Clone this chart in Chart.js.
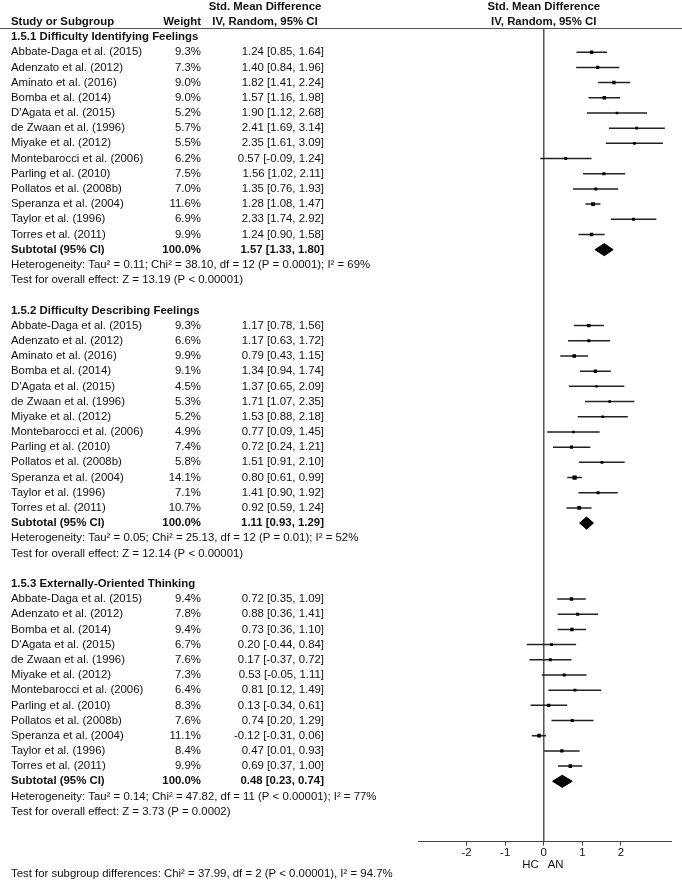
<!DOCTYPE html>
<html>
<head>
<meta charset="utf-8">
<script src="https://cdn.jsdelivr.net/npm/chart.js@4.4.1/dist/chart.umd.min.js"></script>
<style>
  body { margin: 0; background: #fff; }
  canvas { display: block; }
</style>
</head>
<body>
<canvas id="forestPlot" width="682" height="881"></canvas>
<script>
const groupTitles = ['1.5.1 Difficulty Identifying Feelings', '1.5.2 Difficulty Describing Feelings', '1.5.3 Externally-Oriented Thinking'];

const studies1 = ['Abbate-Daga et al. (2015)', 'Adenzato et al. (2012)', 'Aminato et al. (2016)', 'Bomba et al. (2014)', "D'Agata et al. (2015)", 'de Zwaan et al. (1996)', 'Miyake et al. (2012)', 'Montebarocci et al. (2006)', 'Parling et al. (2010)', 'Pollatos et al. (2008b)', 'Speranza et al. (2004)', 'Taylor et al. (1996)', 'Torres et al. (2011)'];
const weights1 = [9.3, 7.3, 9.0, 9.0, 5.2, 5.7, 5.5, 6.2, 7.5, 7.0, 11.6, 6.9, 9.9];
const smd1 = [1.24, 1.40, 1.82, 1.57, 1.90, 2.41, 2.35, 0.57, 1.56, 1.35, 1.28, 2.33, 1.24];
const lower1 = [0.85, 0.84, 1.41, 1.16, 1.12, 1.69, 1.61, -0.09, 1.02, 0.76, 1.08, 1.74, 0.90];
const upper1 = [1.64, 1.96, 2.24, 1.98, 2.68, 3.14, 3.09, 1.24, 2.11, 1.93, 1.47, 2.92, 1.58];

const studies2 = ['Abbate-Daga et al. (2015)', 'Adenzato et al. (2012)', 'Aminato et al. (2016)', 'Bomba et al. (2014)', "D'Agata et al. (2015)", 'de Zwaan et al. (1996)', 'Miyake et al. (2012)', 'Montebarocci et al. (2006)', 'Parling et al. (2010)', 'Pollatos et al. (2008b)', 'Speranza et al. (2004)', 'Taylor et al. (1996)', 'Torres et al. (2011)'];
const weights2 = [9.3, 6.6, 9.9, 9.1, 4.5, 5.3, 5.2, 4.9, 7.4, 5.8, 14.1, 7.1, 10.7];
const smd2 = [1.17, 1.17, 0.79, 1.34, 1.37, 1.71, 1.53, 0.77, 0.72, 1.51, 0.80, 1.41, 0.92];
const lower2 = [0.78, 0.63, 0.43, 0.94, 0.65, 1.07, 0.88, 0.09, 0.24, 0.91, 0.61, 0.90, 0.59];
const upper2 = [1.56, 1.72, 1.15, 1.74, 2.09, 2.35, 2.18, 1.45, 1.21, 2.10, 0.99, 1.92, 1.24];

const studies3 = ['Abbate-Daga et al. (2015)', 'Adenzato et al. (2012)', 'Bomba et al. (2014)', "D'Agata et al. (2015)", 'de Zwaan et al. (1996)', 'Miyake et al. (2012)', 'Montebarocci et al. (2006)', 'Parling et al. (2010)', 'Pollatos et al. (2008b)', 'Speranza et al. (2004)', 'Taylor et al. (1996)', 'Torres et al. (2011)'];
const weights3 = [9.4, 7.8, 9.4, 6.7, 7.6, 7.3, 6.4, 8.3, 7.6, 11.1, 8.4, 9.9];
const smd3 = [0.72, 0.88, 0.73, 0.20, 0.17, 0.53, 0.81, 0.13, 0.74, -0.12, 0.47, 0.69];
const lower3 = [0.35, 0.36, 0.36, -0.44, -0.37, -0.05, 0.12, -0.34, 0.20, -0.31, 0.01, 0.37];
const upper3 = [1.09, 1.41, 1.10, 0.84, 0.72, 1.11, 1.49, 0.61, 1.29, 0.06, 0.93, 1.00];

const subtotalSmd = [1.57, 1.11, 0.48];
const subtotalLower = [1.33, 0.93, 0.23];
const subtotalUpper = [1.80, 1.29, 0.74];

const heterogeneityNotes = [
  'Heterogeneity: Tau\u00b2 = 0.11; Chi\u00b2 = 38.10, df = 12 (P = 0.0001); I\u00b2 = 69%',
  'Heterogeneity: Tau\u00b2 = 0.05; Chi\u00b2 = 25.13, df = 12 (P = 0.01); I\u00b2 = 52%',
  'Heterogeneity: Tau\u00b2 = 0.14; Chi\u00b2 = 47.82, df = 11 (P < 0.00001); I\u00b2 = 77%'
];
const overallNotes = [
  'Test for overall effect: Z = 13.19 (P < 0.00001)',
  'Test for overall effect: Z = 12.14 (P < 0.00001)',
  'Test for overall effect: Z = 3.73 (P = 0.0002)'
];
const subgroupNote = 'Test for subgroup differences: Chi\u00b2 = 37.99, df = 2 (P < 0.00001), I\u00b2 = 94.7%';
const xTicks = [-2, -1, 0, 1, 2];

// layout
const fonte = 'Arial, "Liberation Sans", sans-serif';
const tamFonte = '11.4px ';
const linhaY0 = 37, alturaLinha = 15.19;
const topo = 28.5, eixoY = 841.5;
const yMin = (topo - linhaY0) / alturaLinha;
const yMax = (eixoY - linhaY0) / alturaLinha;
const meiaAltDiamante = 0.4;

const grupos = [
  { studies: studies1, weights: weights1, smd: smd1, lower: lower1, upper: upper1 },
  { studies: studies2, weights: weights2, smd: smd2, lower: lower2, upper: upper2 },
  { studies: studies3, weights: weights3, smd: smd3, lower: lower3, upper: upper3 }
];

function formataIC(est, lo, hi) {
  return est.toFixed(2) + ' [' + lo.toFixed(2) + ', ' + hi.toFixed(2) + ']';
}

const linhas = [];
const bigodes = [];
const quadrados = [];
const tamanhos = [];
const diamantes = [];
let row = 0;
grupos.forEach((g, gi) => {
  linhas.push({ row, name: groupTitles[gi], bold: true });
  row++;
  g.studies.forEach((s, i) => {
    linhas.push({ row, name: s, weight: g.weights[i].toFixed(1) + '%', ci: formataIC(g.smd[i], g.lower[i], g.upper[i]) });
    bigodes.push({ x: g.lower[i], y: row }, { x: g.upper[i], y: row }, { x: null, y: null });
    quadrados.push({ x: g.smd[i], y: row });
    // area do quadrado proporcional ao peso
    tamanhos.push(Math.sqrt(g.weights[i]) * 0.8);
    row++;
  });
  linhas.push({ row, name: 'Subtotal (95% CI)', weight: '100.0%', ci: formataIC(subtotalSmd[gi], subtotalLower[gi], subtotalUpper[gi]), bold: true });
  diamantes.push([
    { x: subtotalLower[gi], y: row },
    { x: subtotalSmd[gi], y: row - meiaAltDiamante },
    { x: subtotalUpper[gi], y: row },
    { x: subtotalSmd[gi], y: row + meiaAltDiamante },
    { x: subtotalLower[gi], y: row }
  ]);
  row++;
  linhas.push({ row, name: heterogeneityNotes[gi] });
  row++;
  linhas.push({ row, name: overallNotes[gi] });
  row += 2;
});

const textoTabela = {
  id: 'textoTabela',
  afterDraw(chart) {
    const ctx = chart.ctx;
    const ys = chart.scales.y;
    const xs = chart.scales.x;
    const area = chart.chartArea;
    ctx.save();
    ctx.strokeStyle = '#555';
    ctx.lineWidth = 1;
    ctx.beginPath();
    ctx.moveTo(0, area.top);
    ctx.lineTo(chart.width, area.top);
    ctx.stroke();

    ctx.fillStyle = '#111';
    ctx.textBaseline = 'middle';
    const escreve = (txt, x, r, align, bold) => {
      ctx.font = (bold ? 'bold ' : '') + tamFonte + fonte;
      ctx.textAlign = align;
      ctx.fillText(txt, x, ys.getPixelForValue(r));
    };
    const colCI = 265, centroPlot = xs.getPixelForValue(0);
    escreve('Std. Mean Difference', colCI, -2, 'center', true);
    escreve('Std. Mean Difference', centroPlot, -2, 'center', true);
    escreve('Study or Subgroup', 11, -1, 'left', true);
    escreve('Weight', 201, -1, 'right', true);
    escreve('IV, Random, 95% CI', colCI, -1, 'center', true);
    escreve('IV, Random, 95% CI', centroPlot, -1, 'center', true);

    linhas.forEach(l => {
      escreve(l.name, 11, l.row, 'left', l.bold);
      if (l.weight) escreve(l.weight, 201, l.row, 'right', l.bold);
      if (l.ci) escreve(l.ci, 324, l.row, 'right', l.bold);
    });
    escreve(subgroupNote, 11, 55.1, 'left', false);

    ctx.font = tamFonte + fonte;
    ctx.textAlign = 'right';
    ctx.fillText('HC', centroPlot - 5, area.bottom + 23.5);
    ctx.textAlign = 'left';
    ctx.fillText('AN', centroPlot + 4, area.bottom + 23.5);
    ctx.restore();
  }
};

const datasets = [];
diamantes.forEach(d => {
  datasets.push({ type: 'line', data: d, borderColor: '#000', borderWidth: 1, backgroundColor: '#000', fill: 'shape', pointRadius: 0, tension: 0 });
});
datasets.push({ type: 'scatter', data: quadrados, pointStyle: 'rect', pointRadius: tamanhos, backgroundColor: '#000', borderWidth: 0 });
datasets.push({ type: 'line', data: bigodes, borderColor: '#222', borderWidth: 1.5, pointRadius: 0, spanGaps: false });
datasets.push({ type: 'line', data: [{ x: 0, y: yMin }, { x: 0, y: yMax }], borderColor: '#555', borderWidth: 1, pointRadius: 0 });

const grafico = new Chart(document.getElementById('forestPlot'), {
  type: 'scatter',
  data: { datasets },
  options: {
    responsive: false,
    animation: false,
    devicePixelRatio: 1,
    layout: { padding: { left: 418, right: 11, top: topo, bottom: 0 } },
    plugins: { legend: { display: false }, tooltip: { enabled: false } },
    scales: {
      x: {
        type: 'linear',
        min: -3.26,
        max: 3.3,
        grid: { drawOnChartArea: false, drawTicks: true, tickLength: 4, color: '#444' },
        border: { display: true, color: '#444', width: 1 },
        ticks: { color: '#111', padding: 1, font: { size: 11.4, family: fonte } },
        afterBuildTicks: s => { s.ticks = xTicks.map(v => ({ value: v })); },
        afterFit: s => { s.height = 881 - eixoY; }
      },
      y: { type: 'linear', reverse: true, min: yMin, max: yMax, display: false }
    }
  },
  plugins: [textoTabela]
});
</script>
</body>
</html>
